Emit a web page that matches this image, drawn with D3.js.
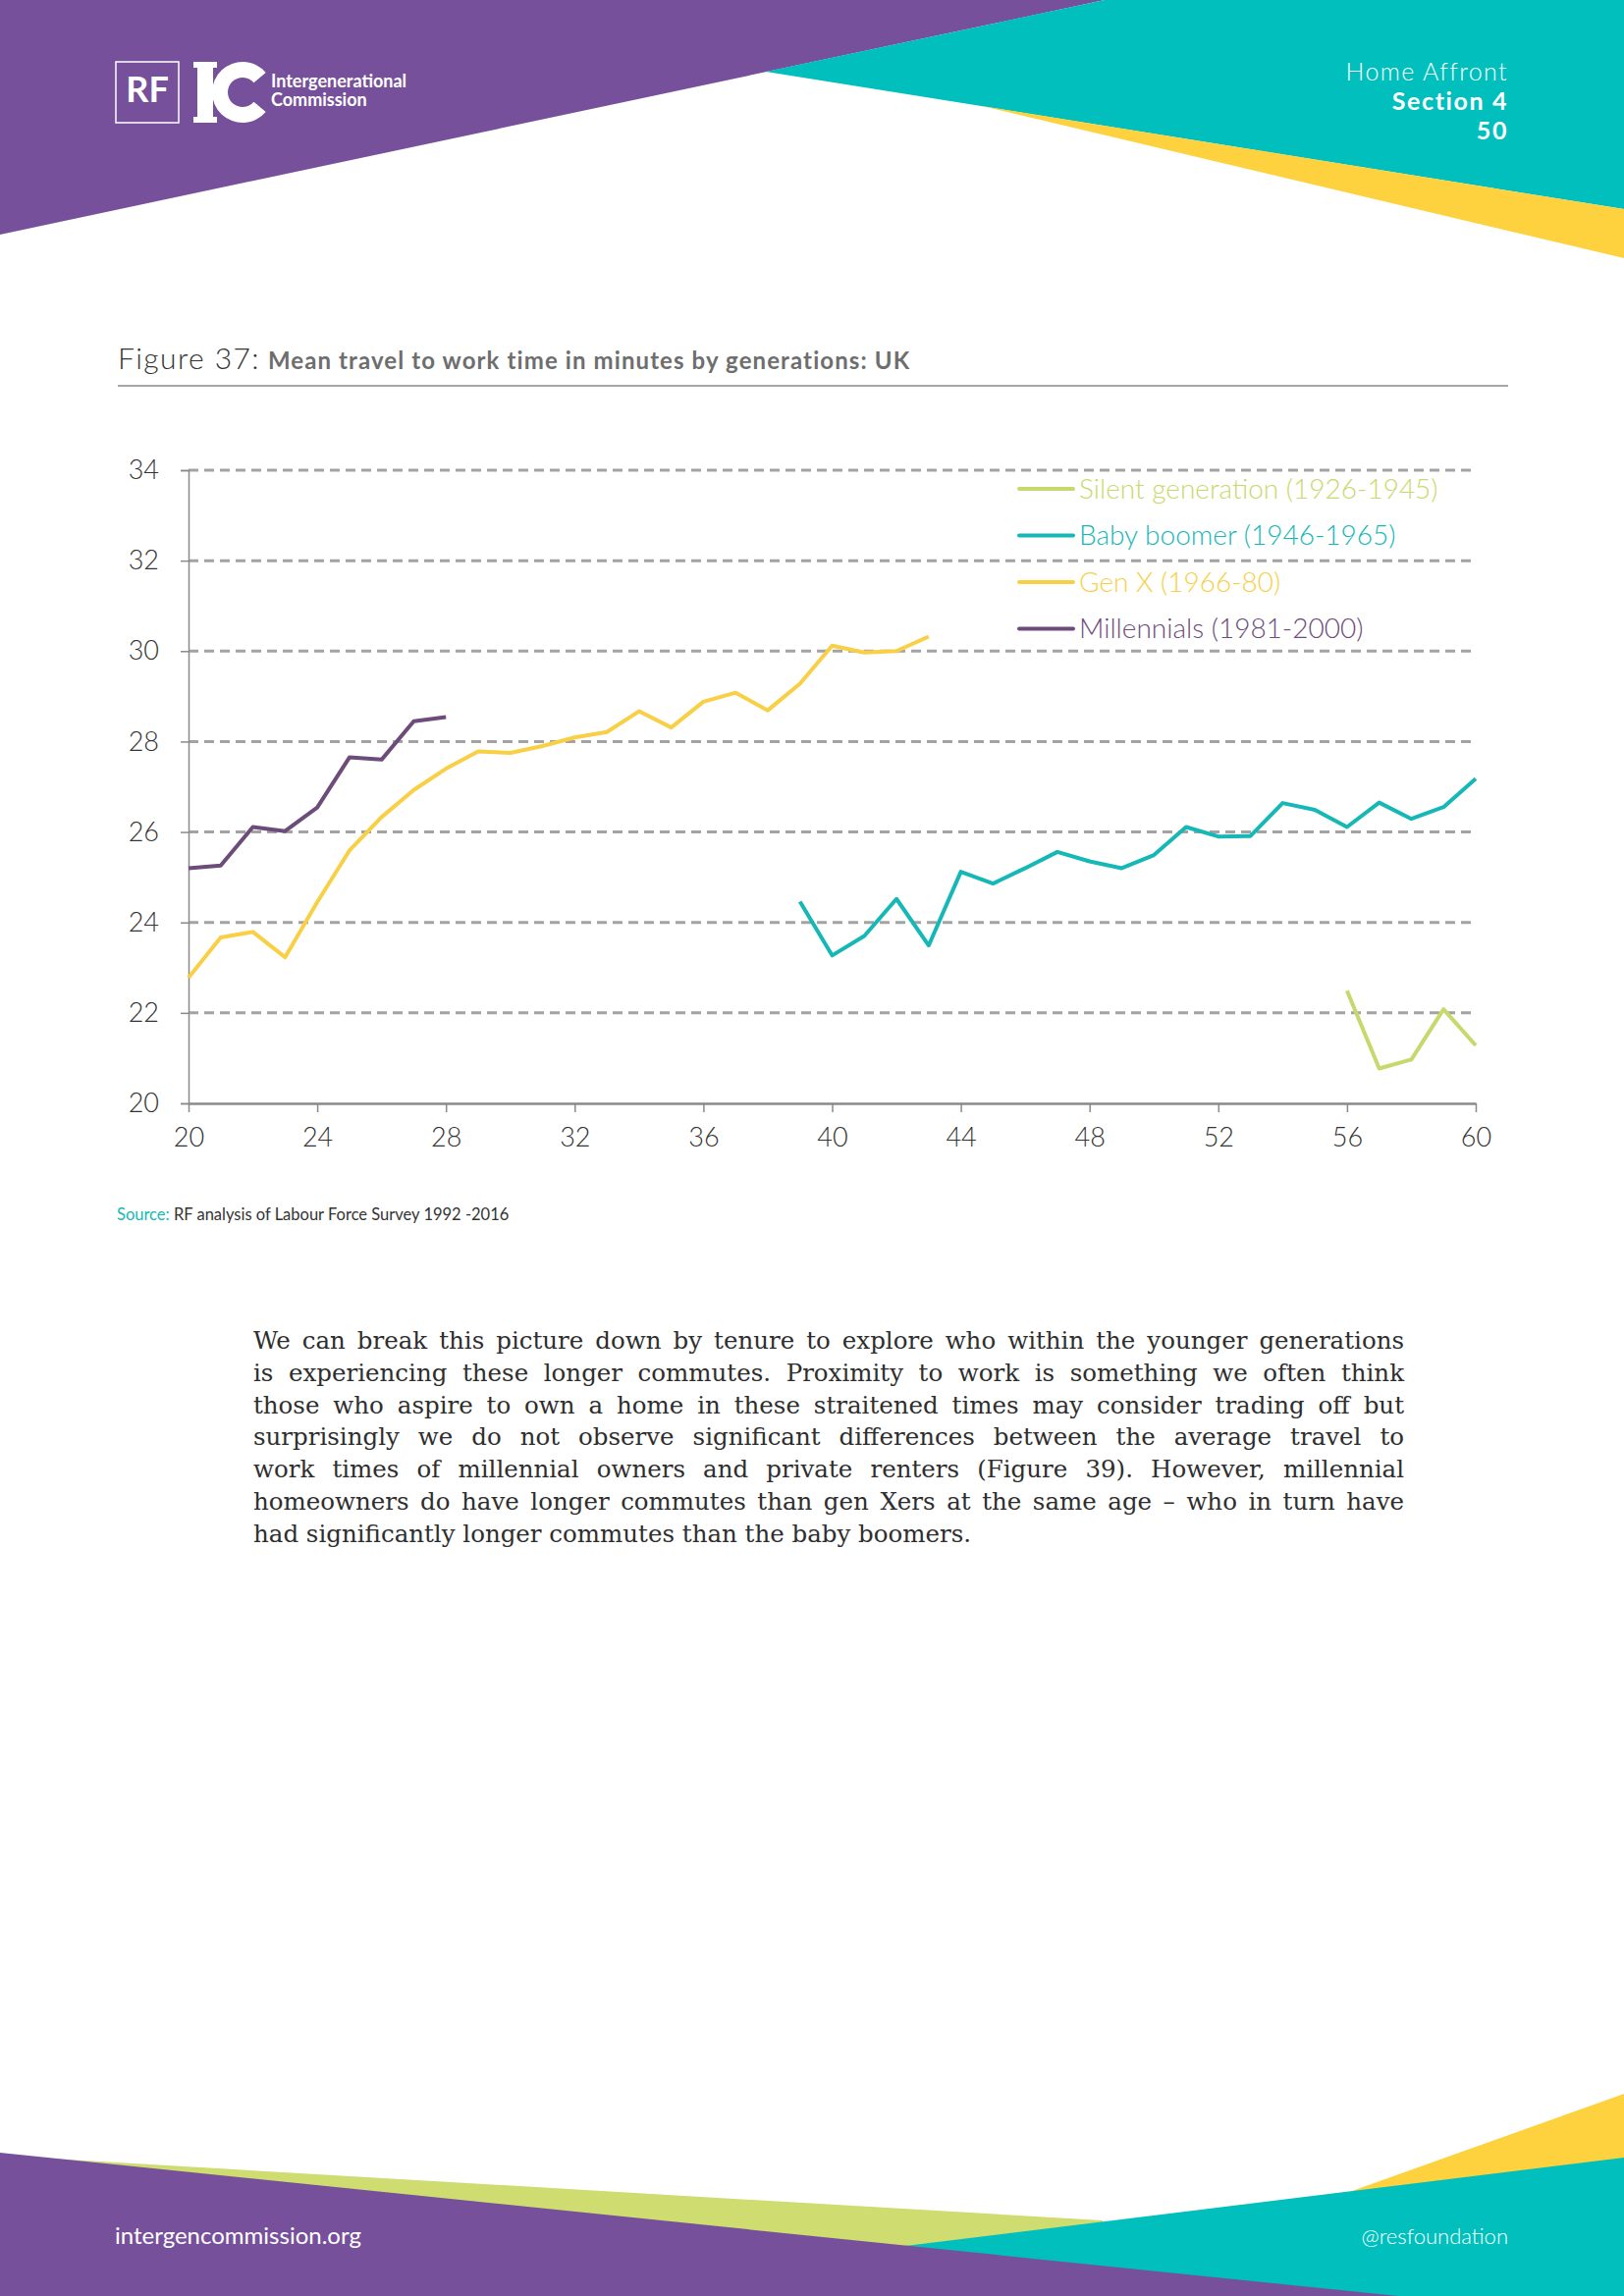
<!DOCTYPE html>
<html>
<head>
<meta charset="utf-8">
<script src="https://cdn.jsdelivr.net/npm/d3@7"></script>
<style>
  body { margin: 0; background: #fff; }
  svg { display: block; font-family: Lato, "Noto Sans", sans-serif; }
</style>
</head>
<body>
<div class="page"></div>
<script>
// chart data
const xTicks = [20, 24, 28, 32, 36, 40, 44, 48, 52, 56, 60];
const yTicks = [20, 22, 24, 26, 28, 30, 32, 34];

const seriesNames = ['Silent generation (1926-1945)', 'Baby boomer (1946-1965)', 'Gen X (1966-80)', 'Millennials (1981-2000)'];
const seriesColors = ['#c9d86c', '#15b8b6', '#f8cf45', '#6d4b7b'];
const seriesStart = [56, 39, 20, 20];

const silent = [22.49, 20.77, 20.97, 22.08, 21.28];
const boomers = [24.46, 23.27, 23.70, 24.52, 23.49, 25.12, 24.86, 25.20, 25.56, 25.35, 25.20,
                 25.49, 26.11, 25.90, 25.91, 26.64, 26.49, 26.11, 26.65, 26.29, 26.55, 27.18];
const genX = [22.78, 23.67, 23.79, 23.23, 24.45, 25.59, 26.33, 26.93, 27.40, 27.78, 27.75, 27.90,
              28.09, 28.21, 28.67, 28.31, 28.88, 29.08, 28.69, 29.28, 30.12, 29.97, 30.00, 30.32];
const millennials = [25.20, 25.26, 26.11, 26.02, 26.54, 27.65, 27.60, 28.45, 28.54];

const headerLines = ['Home Affront', 'Section 4', '50'];

const paragraph = [
  'We can break this picture down by tenure to explore who within the younger generations',
  'is experiencing these longer commutes. Proximity to work is something we often think',
  'those who aspire to own a home in these straitened times may consider trading off but',
  'surprisingly we do not observe significant differences between the average travel to',
  'work times of millennial owners and private renters (Figure 39). However, millennial',
  'homeowners do have longer commutes than gen Xers at the same age \u2013 who in turn have',
  'had significantly longer commutes than the baby boomers.'
];

const W = 1654, H = 2339;

const svg = d3.select('.page')
  .append('svg')
  .attr('width', W)
  .attr('height', H)
  .attr('viewBox', `0 0 ${W} ${H}`);

// header shapes
const line = d3.line();
svg.append('path').attr('d', line([[0, 0], [1125, 0], [0, 239]]) + 'Z').attr('fill', '#77509b');
svg.append('path').attr('d', line([[780, 73], [1125, 0], [1654, 0], [1654, 213]]) + 'Z').attr('fill', '#00bfbc');
svg.append('path').attr('d', line([[1000, 108], [1654, 213], [1654, 263]]) + 'Z').attr('fill', '#fdd23e');

// logo
svg.append('rect').attr('x', 118).attr('y', 63).attr('width', 64).attr('height', 62)
  .attr('fill', 'none').attr('stroke', '#fff').attr('stroke-width', 1.5);
svg.append('text').attr('x', 150).attr('y', 104).attr('text-anchor', 'middle')
  .attr('fill', '#fff').attr('font-size', 36).attr('font-weight', 700).text('RF');
svg.append('rect').attr('x', 201).attr('y', 63).attr('width', 16).attr('height', 62).attr('fill', '#fff');
svg.append('rect').attr('x', 197).attr('y', 63).attr('width', 24).attr('height', 6).attr('fill', '#fff');
svg.append('rect').attr('x', 197).attr('y', 119).attr('width', 24).attr('height', 6).attr('fill', '#fff');
svg.append('path')
  .attr('transform', 'translate(247,94)')
  .attr('d', d3.arc().innerRadius(15).outerRadius(31).startAngle(Math.PI / 2 + 0.7).endAngle(Math.PI * 2.5 - 0.7)())
  .attr('fill', '#fff');
svg.append('text').attr('x', 276).attr('y', 89).attr('fill', '#fff')
  .attr('font-size', 18).attr('font-weight', 700).text('Intergenerational');
svg.append('text').attr('x', 276).attr('y', 108).attr('fill', '#fff')
  .attr('font-size', 18).attr('font-weight', 700).text('Commission');

// header text
svg.append('g').selectAll('text')
  .data(headerLines)
  .enter()
  .append('text')
    .attr('x', 1536)
    .attr('y', (d, i) => 82 + i * 30)
    .attr('text-anchor', 'end')
    .attr('fill', '#fff')
    .attr('font-size', 25)
    .attr('font-weight', (d, i) => i === 0 ? 300 : 700)
    .attr('letter-spacing', (d, i) => i === 0 ? 1.4 : 1.6)
    .text(d => d);

// figure title
const title = svg.append('text').attr('x', 120).attr('y', 376);
title.append('tspan').attr('fill', '#333').attr('font-size', 30).attr('font-weight', 300)
  .attr('letter-spacing', 1.4).text('Figure 37:');
title.append('tspan').attr('dx', 8).attr('fill', '#6e6e6e').attr('font-size', 24).attr('font-weight', 700)
  .attr('letter-spacing', 1.1).text('Mean travel to work time in minutes by generations: UK');
svg.append('line').attr('x1', 120).attr('x2', 1536).attr('y1', 393).attr('y2', 393)
  .attr('stroke', '#8a8a8a').attr('stroke-width', 1.5);

// chart
const x = d3.scaleLinear().domain([20, 60]).range([192, 1503]);
const y = d3.scaleLinear().domain([20, 34]).range([1124, 479]);

const grid = svg.append('g');
grid.selectAll('line')
  .data(yTicks.filter(d => d > 20))
  .enter()
  .append('line')
    .attr('x1', x(20)).attr('x2', x(60))
    .attr('y1', d => y(d)).attr('y2', d => y(d))
    .attr('stroke', '#a3a3a3').attr('stroke-width', 3).attr('stroke-dasharray', '10,6');

const yAxis = svg.append('g')
  .attr('transform', `translate(${x(20)},0)`)
  .call(d3.axisLeft(y).tickValues(yTicks).tickSize(8).tickPadding(22));
yAxis.select('.domain').attr('stroke', '#8a8a8a').attr('stroke-width', 1.5);
yAxis.selectAll('.tick line').attr('stroke', '#8a8a8a').attr('stroke-width', 1.5);
yAxis.selectAll('.tick text').attr('font-size', 27).attr('font-weight', 300)
  .attr('font-family', 'Lato, sans-serif').attr('fill', '#333');

const xAxis = svg.append('g')
  .attr('transform', `translate(0,${y(20)})`)
  .call(d3.axisBottom(x).tickValues(xTicks).tickSizeInner(9).tickSizeOuter(0).tickPadding(16));
xAxis.select('.domain').attr('stroke', '#8a8a8a').attr('stroke-width', 2.5);
xAxis.selectAll('.tick line').attr('stroke', '#8a8a8a').attr('stroke-width', 1.5);
xAxis.selectAll('.tick text').attr('font-size', 27).attr('font-weight', 300)
  .attr('font-family', 'Lato, sans-serif').attr('fill', '#333');

const allSeries = [silent, boomers, genX, millennials];
const pathGen = d3.line().x(d => x(d[0])).y(d => y(d[1]));

svg.append('g').selectAll('path')
  .data(allSeries.map((vals, i) => vals.map((v, j) => [seriesStart[i] + j, v])))
  .enter()
  .append('path')
    .attr('d', pathGen)
    .attr('fill', 'none')
    .attr('stroke', (d, i) => seriesColors[i])
    .attr('stroke-width', 4)
    .attr('stroke-linejoin', 'round');

// legend
const legend = svg.append('g').selectAll('g')
  .data(seriesNames)
  .enter()
  .append('g')
    .attr('transform', (d, i) => `translate(1038,${498 + i * 47.5})`);
legend.append('line').attr('x1', 0).attr('x2', 55)
  .attr('stroke', (d, i) => seriesColors[i]).attr('stroke-width', 4).attr('stroke-linecap', 'round');
legend.append('text').attr('x', 61).attr('y', 9.5)
  .attr('font-size', 28).attr('font-weight', 300)
  .attr('fill', (d, i) => seriesColors[i]).text(d => d);

// source
const src = svg.append('text').attr('x', 119).attr('y', 1243).attr('font-size', 16.5);
src.append('tspan').attr('fill', '#15b8b6').text('Source:');
src.append('tspan').attr('fill', '#333').text(' RF analysis of Labour Force Survey 1992 -2016');

// body text, justified line by line with word spacing
const textWidth = 1172;
const para = svg.append('g').selectAll('text')
  .data(paragraph)
  .enter()
  .append('text')
    .attr('x', 258)
    .attr('y', (d, i) => 1374 + i * 32.8)
    .attr('font-family', '"DejaVu Serif", serif')
    .attr('font-size', 24.5)
    .attr('fill', '#2e2e2e')
    .text(d => d);

para.each(function(d, i) {
  if (i === paragraph.length - 1) return;
  const natural = this.getComputedTextLength();
  const spaces = d.split(' ').length - 1;
  d3.select(this).attr('word-spacing', (textWidth - natural) / spaces);
});

// footer shapes
svg.append('path').attr('d', line([[0, 2196], [1123, 2262], [1123, 2339], [0, 2339]]) + 'Z').attr('fill', '#cfdc70');
svg.append('path').attr('d', line([[1377, 2232], [1654, 2133], [1654, 2339], [1377, 2339]]) + 'Z').attr('fill', '#fdd23e');
svg.append('path').attr('d', line([[800, 2303], [1654, 2198], [1654, 2339], [800, 2339]]) + 'Z').attr('fill', '#00bfbc');
svg.append('path').attr('d', line([[0, 2193], [1424, 2339], [0, 2339]]) + 'Z').attr('fill', '#77509b');

svg.append('text').attr('x', 117).attr('y', 2286).attr('fill', '#fff')
  .attr('font-size', 24).text('intergencommission.org');
svg.append('text').attr('x', 1536).attr('y', 2286).attr('text-anchor', 'end').attr('fill', '#fff')
  .attr('font-size', 22).attr('font-weight', 300).text('@resfoundation');
</script>
</body>
</html>
